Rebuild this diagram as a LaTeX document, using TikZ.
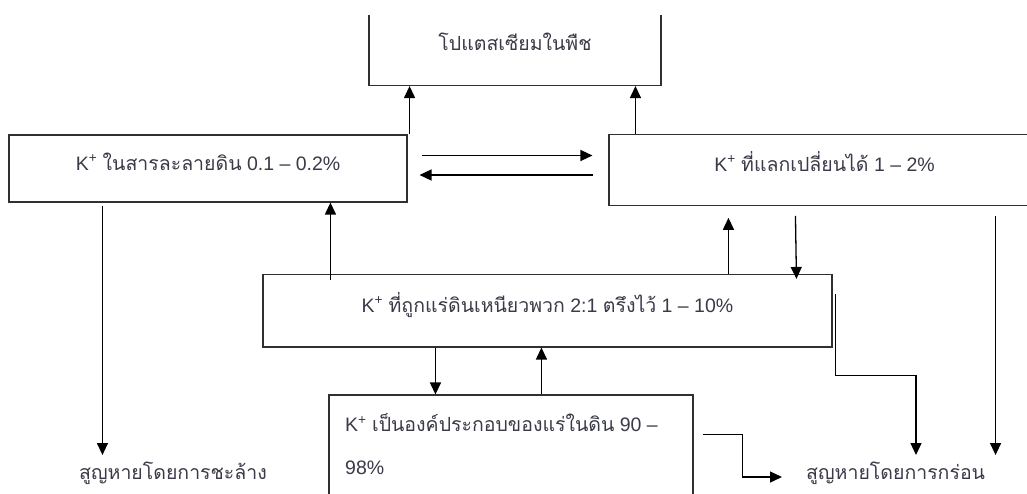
\documentclass[tikz,border=0pt]{standalone}
\usepackage{fontspec}
\setmainfont{Liberation Sans}
\newfontfamily\thaifont[Script=Thai]{Loma}
\newcommand\tht[1]{{\thaifont #1}}
\usetikzlibrary{arrows.meta,calc}
\definecolor{ink}{HTML}{303030}
\definecolor{txt}{HTML}{3A3A48}
\begin{document}
\begin{tikzpicture}[x=1pt,y=-1pt,
  box/.style={draw=ink, line width=1.1pt, inner sep=0pt, text=txt, font=\fontsize{19.5}{23}\selectfont},
  tbox/.style={box, text height=10pt, text depth=7pt},
  lbl/.style={text=txt, inner sep=0pt, font=\fontsize{19.5}{43}\selectfont},
  arr/.style={draw=black, line width=1.3pt, -{Triangle[length=12pt,width=11pt]}}]
\useasboundingbox (0,0) rectangle (1027,493);
\clip (0,15) rectangle (1027,493);
% boxes
\node[box, minimum width=292pt, minimum height=87pt] (plant) at (515,42) {\tht{โปแตสเซียมในพืช}};
\node[tbox, minimum width=398pt, minimum height=67pt] (sol) at (208,168.5) {K\textsuperscript{+} \tht{ในสารละลายดิน} 0.1 – 0.2\%};
\node[tbox, minimum width=431pt, minimum height=70.5pt] (exch) at (824.5,170) {K\textsuperscript{+} \tht{ที่แลกเปลี่ยนได้} 1 – 2\%};
\node[tbox, minimum width=569pt, minimum height=72.5pt] (fix) at (547.5,310.75) {K\textsuperscript{+} \tht{ที่ถูกแร่ดินเหนียวพวก} 2:1 \tht{ตรึงไว้} 1 – 10\%};
\node[box, minimum width=364pt, minimum height=125pt] (min) at (511,457.5) {};
\node[lbl, align=left, anchor=north west] (mintext) at (345,413.5) {K\textsuperscript{+} \tht{เป็นองค์ประกอบของแร่ในดิน} 90 –\\98\%};
% loss labels
\node[lbl] (leach) at (173,473) {\tht{สูญหายโดยการชะล้าง}};
\node[lbl, anchor=west] (eros) at (806,473) {\tht{สูญหายโดยการกร่อน}};
% connectors
\coordinate (r1) at ($(sol.north east)+(2,0)$);
\draw[arr] (r1) -- (r1 |- plant.south);
\coordinate (r2) at ($(exch.north west)+(27,0)$);
\draw[arr] (r2) -- (r2 |- plant.south);
\coordinate (e1) at ($(sol.east)+(14,-13)$);
\draw[arr, shorten >=16pt] (e1) -- (e1 -| exch.west);
\coordinate (w1) at ($(exch.west)+(-15,5)$);
\draw[arr, shorten >=12pt] (w1) -- (w1 -| sol.east);
\coordinate (l1) at ($(sol.south west)+(94,3)$);
\coordinate (l2) at (103,455);
\draw[arr] (l1) -- (l1 |- l2);
\coordinate (m1) at ($(fix.north west)+(68,6)$);
\draw[arr] (m1) -- (m1 |- sol.south);
\coordinate (m2) at ($(fix.north west)+(466,0)$);
\draw[arr, shorten >=12pt] (m2) -- (m2 |- exch.south);
\coordinate (r3) at ($(exch.south west)+(187,10)$);
\draw[arr] (r3) -- ($(fix.north west)+(534,5)$);
\coordinate (m3) at ($(fix.south west)+(173,0)$);
\draw[arr] (m3) -- (m3 |- min.north);
\coordinate (b1) at ($(min.north west)+(213,0)$);
\draw[arr] (b1) -- (b1 |- fix.south);
\coordinate (m4) at ($(fix.north east)+(3,20.5)$);
\coordinate (k1) at (916,455);
\draw[arr] (m4) -- ($(m4)+(0,81)$) -| (k1);
\coordinate (r4) at ($(exch.south east)+(-45,10)$);
\draw[arr] (r4) -- (r4 |- k1);
\coordinate (b2) at ($(min.north east)+(9,40)$);
\draw[arr] (b2) -- ++(40,0) |- ($(eros.west)+(-24,4)$);
\end{tikzpicture}
\end{document}
